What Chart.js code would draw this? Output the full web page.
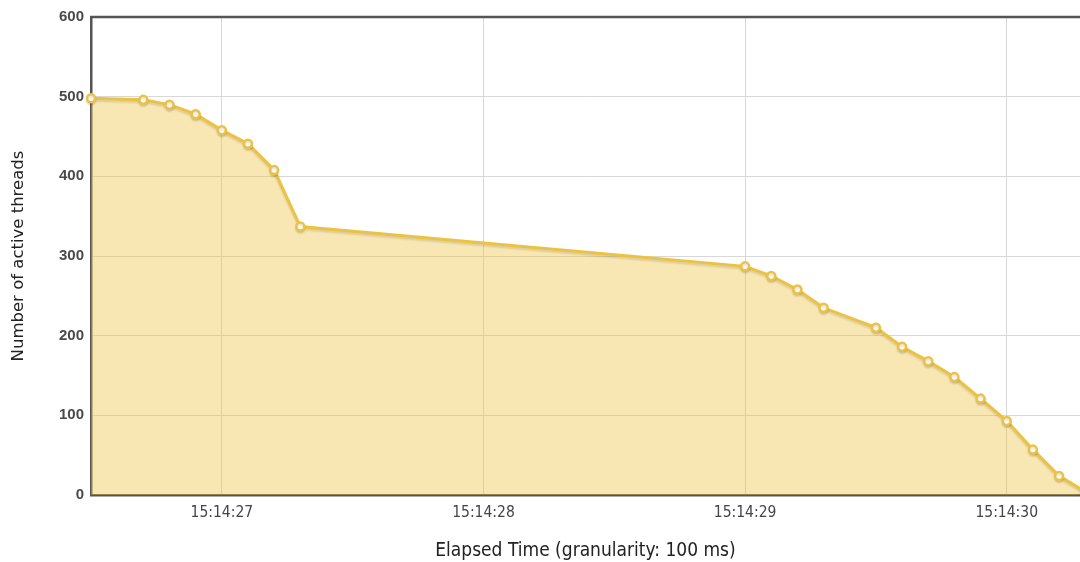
<!DOCTYPE html>
<html>
<head>
<meta charset="utf-8">
<script src="https://cdn.jsdelivr.net/npm/chart.js@4/dist/chart.umd.min.js"></script>
<style>
  html, body { margin: 0; padding: 0; background: #fff; overflow: hidden; }
  #wrap { width: 1080px; height: 562px; }
</style>
</head>
<body>
<div id="wrap"><canvas id="threadsChart" width="1080" height="562"></canvas></div>
<script>
// seconds after 15:14:00
const times = [26.5, 26.7, 26.8, 26.9, 27.0, 27.1, 27.2, 27.3, 29.0, 29.1, 29.2, 29.3, 29.5, 29.6, 29.7, 29.8, 29.9, 30.0, 30.1, 30.2, 30.3];
const activeThreads = [498, 496, 490, 478, 458, 441, 408, 337, 287, 275, 258, 235, 210, 186, 168, 148, 121, 93, 57, 24, 4];
const yTicks = [0, 100, 200, 300, 400, 500, 600];

const points = times.map((t, i) => ({ x: t, y: activeThreads[i] }));

function fmtTime(sec) {
    return '15:14:' + String(Math.round(sec)).padStart(2, '0');
}

// top border of the plot frame + soft shadow under the line
const frameTop = {
    id: 'frameTop',
    beforeDatasetDraw(chart) {
        const c = chart.ctx;
        c.save();
        c.shadowColor = 'rgba(0, 0, 0, 0.12)';
        c.shadowOffsetY = 2;
        c.shadowBlur = 2;
    },
    afterDatasetDraw(chart) {
        chart.ctx.restore();
    },
    afterDraw(chart) {
        const { ctx, chartArea } = chart;
        ctx.save();
        ctx.strokeStyle = '#545454';
        ctx.lineWidth = 2.5;
        ctx.beginPath();
        ctx.moveTo(chartArea.left - 1, chartArea.top);
        ctx.lineTo(chartArea.right + 2, chartArea.top);
        ctx.stroke();
        ctx.restore();
    }
};

const ctx = document.getElementById('threadsChart').getContext('2d');
const threadsChart = new Chart(ctx, {
    type: 'line',
    data: {
        datasets: [
            {
                label: 'Active threads',
                data: points,
                borderColor: '#EDC240',
                backgroundColor: 'rgba(237, 194, 64, 0.4)',
                borderWidth: 3,
                fill: 'origin',
                tension: 0,
                clip: false,
                pointRadius: 4,
                pointBorderWidth: 2.5,
                pointBackgroundColor: '#ffffff',
                pointBorderColor: '#EDC240',
            },
        ],
    },
    plugins: [frameTop],
    options: {
        responsive: false,
        animation: false,
        layout: { autoPadding: false, padding: { top: 17, right: 0, left: 0, bottom: 0 } },
        plugins: {
            legend: { display: false },
            tooltip: { enabled: false },
        },
        scales: {
            x: {
                type: 'linear',
                min: 26.5,
                max: 30.28,
                afterBuildTicks: (scale) => {
                    scale.ticks = [27, 28, 29, 30].map(v => ({ value: v }));
                },
                afterFit: (scale) => { scale.height = 67; },
                grid: { color: '#d8d8d8', drawTicks: false },
                border: { color: '#545454', width: 2.5 },
                ticks: {
                    callback: (v) => fmtTime(v),
                    color: '#444',
                    padding: 9,
                    maxRotation: 0,
                    font: { family: 'DejaVu Sans Condensed', size: 15.5 },
                },
                title: {
                    display: true,
                    text: 'Elapsed Time (granularity: 100 ms)',
                    color: '#222',
                    padding: { top: 12, bottom: 0 },
                    font: { family: 'DejaVu Sans Condensed', size: 19 },
                },
            },
            y: {
                min: 0,
                max: 600,
                afterBuildTicks: (scale) => {
                    scale.ticks = yTicks.map(v => ({ value: v }));
                },
                afterFit: (scale) => { scale.width = 91; },
                grid: { color: '#d8d8d8', drawTicks: false },
                border: { color: '#545454', width: 2.5 },
                ticks: {
                    color: '#4a4a4a',
                    padding: 7,
                    font: { family: 'Liberation Sans', size: 15, weight: 'bold' },
                },
                title: {
                    display: true,
                    text: 'Number of active threads',
                    color: '#222',
                    padding: { top: 9, bottom: 0 },
                    font: { family: 'DejaVu Sans', size: 16.5 },
                },
            },
        },
    },
});
</script>
</body>
</html>
